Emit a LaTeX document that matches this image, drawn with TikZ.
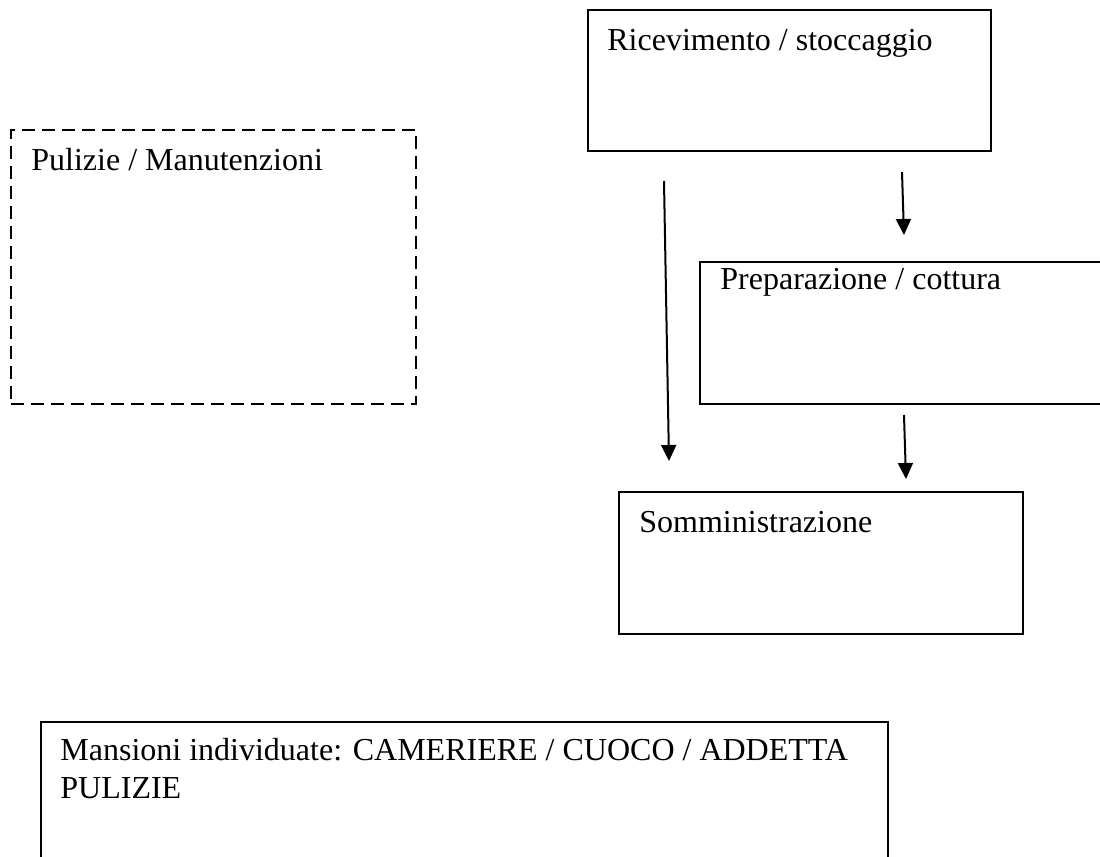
\documentclass[tikz,border=0pt]{standalone}
\usepackage{fontspec}
\setmainfont{Liberation Serif}
\usetikzlibrary{arrows.meta}

\tikzset{
    box/.style={draw, line width=1pt, anchor=north west, inner sep=0pt},
    dbox/.style={box, dash pattern=on 6.5pt off 3.5pt},
    lbl/.style={anchor=base west, inner sep=0pt, align=left, font=\fontsize{16}{19}\selectfont},
    arr/.style={line width=1pt, -{Triangle[length=8pt,width=7.5pt]}}
}

\begin{document}
\begin{tikzpicture}[x=0.5pt, y=-0.5pt]
    \useasboundingbox (0,0) rectangle (1100,857);
    \clip (0,0) rectangle (1100,857);
    \fill[white] (0,0) rectangle (1100,857);
    % boxes
    \node[box, minimum width=201.5pt, minimum height=70.5pt] (ric) at (587,9) {};
    \node[dbox, minimum width=202.5pt, minimum height=137pt] (pul) at (10,129) {};
    \node[box, minimum width=220pt, minimum height=71pt] (prep) at (699,261) {};
    \node[box, minimum width=202pt, minimum height=71pt] (som) at (618,491) {};
    \node[box, minimum width=423.5pt, minimum height=100pt] (man) at (40,721) {};
    % texts
    \node[lbl] (ricT) at (607,50) {Ricevimento / stoccaggio};
    \node[lbl] (pulT) at (31,170) {Pulizie / Manutenzioni};
    \node[lbl] (prepT) at (720,289) {Preparazione / cottura};
    \node[lbl] (somT) at (639,532) {Somministrazione};
    \node[lbl] (manT) at (60,798) {Mansioni individuate: CAMERIERE / CUOCO / ADDETTA\\PULIZIE};
    % arrows
    \coordinate (ricS) at (664,181);
    \coordinate (somN) at (669,461);
    \coordinate (ricD) at (902,172);
    \coordinate (prepU) at (904,235);
    \coordinate (prepD) at (904,415);
    \coordinate (somU) at (906,479);
    \draw[arr] (ricS) -- (somN);
    \draw[arr] (ricD) -- (prepU);
    \draw[arr] (prepD) -- (somU);
\end{tikzpicture}
\end{document}
